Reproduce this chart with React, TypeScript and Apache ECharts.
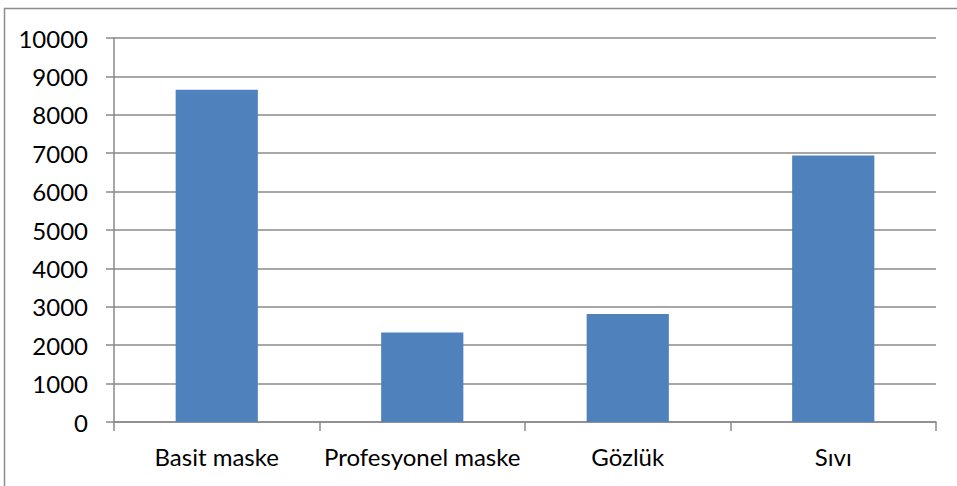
import React, { useEffect, useRef } from "react";
import * as echarts from "echarts";

const categories = ["Basit maske", "Profesyonel maske", "Gözlük", "Sıvı"];
const values = [8650, 2330, 2810, 6940];
const yMin = 0;
const yMax = 10000;
const yInterval = 1000;

export default function App() {
  const ref = useRef<HTMLDivElement>(null);
  useEffect(() => {
    if (!ref.current) return;
    const chart = echarts.init(ref.current, null, { renderer: "svg" });
    const font = "Lato, 'Liberation Sans', sans-serif";
    chart.setOption({
      animation: false,
      backgroundColor: "#ffffff",
      graphic: [
        {
          type: "rect",
          shape: { x: 4.5, y: 8.5, width: 1100, height: 1100 },
          style: { fill: "none", stroke: "#8c8c8c", lineWidth: 1.5 },
          silent: true,
        },
      ],
      grid: { left: 114, right: 21, top: 38, bottom: 64, containLabel: false },
      xAxis: {
        type: "category",
        data: categories,
        axisLine: { show: true, lineStyle: { color: "#8a8a8a", width: 1.5 } },
        axisTick: { show: true, length: 9, lineStyle: { color: "#8a8a8a", width: 1.5 } },
        axisLabel: { color: "#000", fontSize: 24, fontFamily: font, margin: 22, interval: 0 },
        splitLine: { show: false },
      },
      yAxis: {
        type: "value",
        min: yMin,
        max: yMax,
        interval: yInterval,
        axisLine: { show: true, lineStyle: { color: "#8a8a8a", width: 1.5 } },
        axisTick: { show: true, length: 8, lineStyle: { color: "#8a8a8a", width: 1.5 } },
        axisLabel: {
          color: "#000",
          fontSize: 24,
          fontFamily: font,
          margin: 26,
          formatter: (v: number) => String(v),
        },
        splitLine: { show: true, lineStyle: { color: "#8a8a8a", width: 1.5 } },
      },
      series: [
        {
          type: "bar",
          data: values,
          barWidth: "40%",
          itemStyle: { color: "#4f81bd" },
        },
      ],
    });
    return () => chart.dispose();
  }, []);
  return (
    <div
      ref={ref}
      style={{ position: "fixed", left: 0, top: 0, width: 957, height: 486 }}
    />
  );
}
